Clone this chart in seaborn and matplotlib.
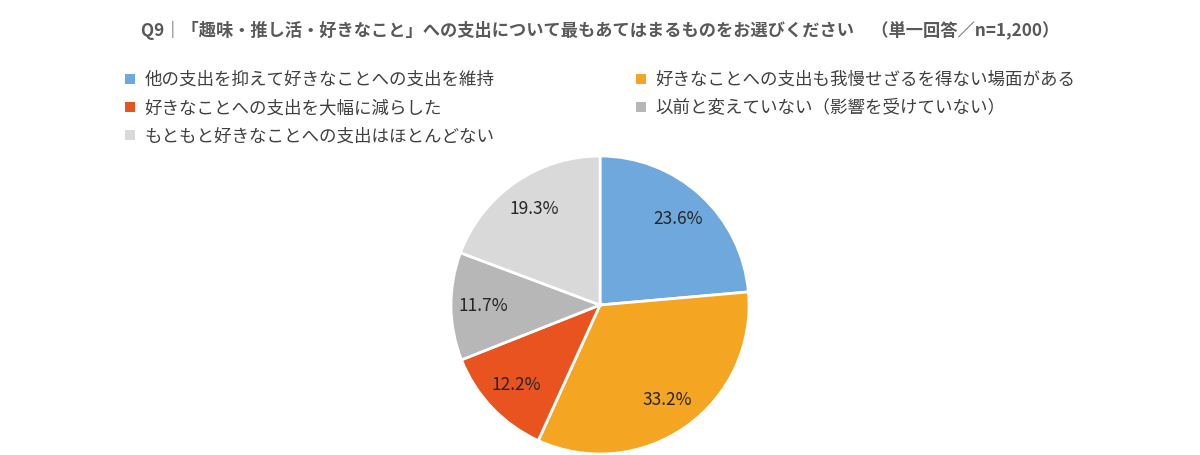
import matplotlib
matplotlib.use("Agg")
import matplotlib.pyplot as plt
import seaborn as sns

# data
labels = [
    "他の支出を抑えて好きなことへの支出を維持",
    "好きなことへの支出も我慢せざるを得ない場面がある",
    "好きなことへの支出を大幅に減らした",
    "以前と変えていない（影響を受けていない）",
    "もともと好きなことへの支出はほとんどない",
]
values = [23.6, 33.2, 12.2, 11.7, 19.3]
colors = ["#6FA8DC", "#F4A622", "#E8531F", "#B7B7B7", "#D9D9D9"]
title = "Q9｜「趣味・推し活・好きなこと」への支出について最もあてはまるものをお選びください　（単一回答／n=1,200）"

sns.set_theme(style="white")
plt.rcParams["font.family"] = ["Noto Sans CJK JP", "DejaVu Sans"]

fig = plt.figure(figsize=(12, 4.55), dpi=100)
ax = fig.add_axes([451 / 1200, 1 / 455, 298 / 1200, 298 / 455])

wedges, texts, autotexts = ax.pie(
    values, colors=colors, startangle=90, counterclock=False,
    autopct="%.1f%%", pctdistance=0.78,
    wedgeprops=dict(edgecolor="white", linewidth=2),
    textprops=dict(fontsize=12.5, color="#262626"),
)
ax.set_xlim(-1.0, 1.0)
ax.set_ylim(-1.0, 1.0)
ax.set_aspect("equal")
ax.axis("off")

fig.text(0.5, 1 - 30 / 455, title, ha="center", va="center", fontsize=12.4,
         fontweight="bold", color="#595959")

order = [0, 2, 4, 1, 3]
fig.legend([wedges[i] for i in order], [labels[i] for i in order],
           ncol=2, loc="upper left", bbox_to_anchor=(118 / 1200, 1 - 64 / 455),
           frameon=False, fontsize=12.6, labelcolor="#404040",
           handlelength=0.55, handleheight=0.55, handletextpad=0.55,
           columnspacing=8.1, labelspacing=0.58, borderaxespad=0)
for h in fig.legends[0].legend_handles:
    h.set_edgecolor("none")

fig.savefig("out.png", dpi=100)
